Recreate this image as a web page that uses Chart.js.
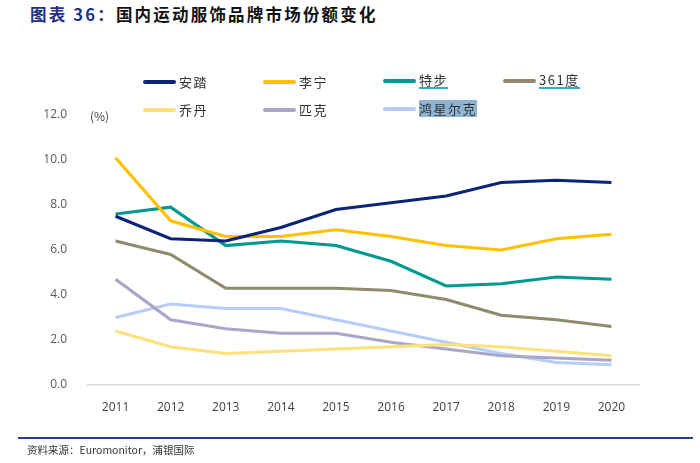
<!DOCTYPE html>
<html>
<head>
<meta charset="utf-8">
<script src="https://cdn.jsdelivr.net/npm/chart.js@4/dist/chart.umd.min.js"></script>
<style>
  body { margin: 0; background: #fff; font-family: "Noto Sans CJK SC", sans-serif; }
  #wrap { position: relative; width: 700px; height: 463px; overflow: hidden; }
  #title { position: absolute; left: 30px; top: 2px; font-size: 16.5px; font-weight: bold; color: #111; letter-spacing: 2.2px; }
  #title span { color: #1f2f80; }
  #legend { position: absolute; left: 143px; top: 72px; width: 480px; }
  .item { position: absolute; display: flex; align-items: center; font-size: 13px; color: #333; letter-spacing: 1.5px; }
  .item i { display: inline-block; width: 33px; height: 4px; border-radius: 2px; margin-right: 3px; }
  #unit { position: absolute; left: 90px; top: 107px; font-size: 12px; color: #444; }
  #rule { position: absolute; left: 18px; top: 437px; width: 675px; height: 2px; background: #2a3c8c; }
  #source { position: absolute; left: 27px; top: 442px; font-size: 10.5px; color: #333; }
  canvas { position: absolute; left: 0; top: 2px; }
</style>
</head>
<body>
<div id="wrap">
  <div id="title"><span>图表 36：</span>国内运动服饰品牌市场份额变化</div>
  <canvas id="chart" width="700" height="461"></canvas>
  <div id="legend"></div>
  <div id="unit">(%)</div>
  <div id="rule"></div>
  <div id="source">资料来源：Euromonitor，浦银国际</div>
</div>
<script>
const years = ['2011', '2012', '2013', '2014', '2015', '2016', '2017', '2018', '2019', '2020'];
const anta = [7.5, 6.5, 6.4, 7.0, 7.8, 8.1, 8.4, 9.0, 9.1, 9.0];
const lining = [10.1, 7.3, 6.6, 6.6, 6.9, 6.6, 6.2, 6.0, 6.5, 6.7];
const xtep = [7.6, 7.9, 6.2, 6.4, 6.2, 5.5, 4.4, 4.5, 4.8, 4.7];
const d361 = [6.4, 5.8, 4.3, 4.3, 4.3, 4.2, 3.8, 3.1, 2.9, 2.6];
const qiaodan = [2.4, 1.7, 1.4, 1.5, 1.6, 1.7, 1.8, 1.7, 1.5, 1.3];
const peak = [4.7, 2.9, 2.5, 2.3, 2.3, 1.9, 1.6, 1.3, 1.2, 1.1];
const erke = [3.0, 3.6, 3.4, 3.4, 2.9, 2.4, 1.9, 1.4, 1.0, 0.9];
const yTicks = [0, 2, 4, 6, 8, 10, 12];

const series = [
    { label: '安踏', data: anta, color: '#0b2478' },
    { label: '李宁', data: lining, color: '#ffc000' },
    { label: '特步', data: xtep, color: '#00998f', deco: 'underline' },
    { label: '361度', data: d361, color: '#8e8c6c', deco: 'underline' },
    { label: '乔丹', data: qiaodan, color: '#ffe07a' },
    { label: '匹克', data: peak, color: '#a9a6c9' },
    { label: '鸿星尔克', data: erke, color: '#b6cdfc', deco: 'highlight' }
];

// legend in 4 columns, 2 rows
const legend = document.getElementById('legend');
series.forEach((s, i) => {
    const el = document.createElement('div');
    el.className = 'item';
    el.style.left = (i % 4) * 120 + 'px';
    el.style.top = Math.floor(i / 4) * 28 + 'px';
    let txt = '<span>' + s.label + '</span>';
    if (s.deco === 'underline') txt = '<span style="border-bottom:2px solid #28b4c8;line-height:15px">' + s.label + '</span>';
    if (s.deco === 'highlight') txt = '<span style="background:#8fb3d3;line-height:17px">' + s.label + '</span>';
    el.innerHTML = '<i style="background:' + s.color + '"></i>' + txt;
    legend.appendChild(el);
});

new Chart(document.getElementById('chart'), {
    type: 'line',
    data: {
        labels: years,
        datasets: series.map(s => ({
            label: s.label,
            data: s.data,
            borderColor: s.color,
            backgroundColor: s.color,
            borderWidth: 3.2,
            pointRadius: 0,
            tension: 0,
            fill: false
        }))
    },
    options: {
        responsive: false,
        animation: false,
        layout: { padding: { top: 113, right: 61, bottom: 0, left: 0 } },
        plugins: { legend: { display: false }, tooltip: { enabled: false } },
        scales: {
            x: {
                offset: true,
                grid: { display: false },
                border: { display: true, color: '#d9d9d9', width: 1.5 },
                ticks: { color: '#404040', font: { family: 'Open Sans', size: 12 }, padding: 7 },
                afterFit: (scale) => { scale.height = 78; }
            },
            y: {
                min: 0,
                max: 12,
                afterBuildTicks: (scale) => { scale.ticks = yTicks.map(v => ({ value: v })); },
                grid: { display: false },
                border: { display: false },
                ticks: {
                    color: '#595959',
                    font: { family: 'Open Sans', size: 12 },
                    padding: 13,
                    callback: (v) => v.toFixed(1)
                },
                afterFit: (scale) => { scale.width = 88; }
            }
        }
    }
});
</script>
</body>
</html>
